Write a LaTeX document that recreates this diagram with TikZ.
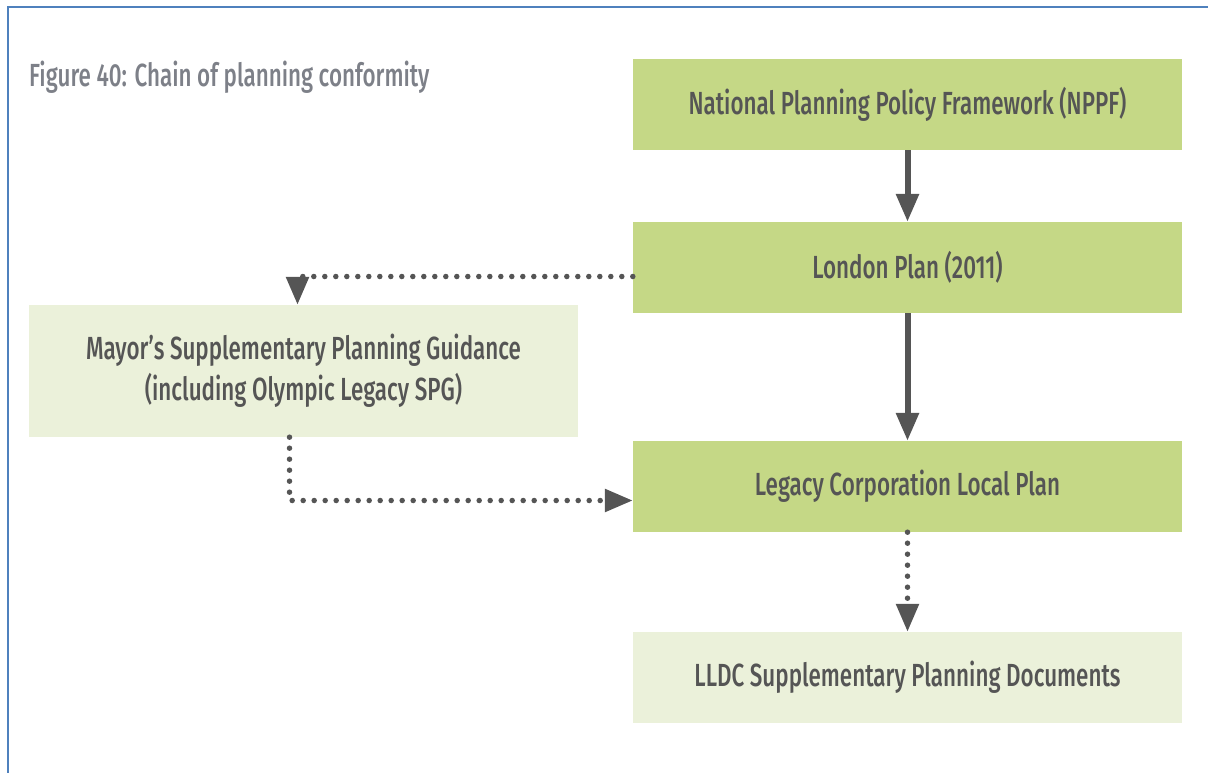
\documentclass[tikz,border=0pt]{standalone}
\usepackage{fontspec}
\setmainfont{Fira Sans}[FakeStretch=0.70,UprightFont={* Medium}]
\usetikzlibrary{arrows.meta,calc}
\definecolor{frameblue}{HTML}{4F81BD}
\definecolor{darkgreen}{HTML}{C5D886}
\definecolor{palegreen}{HTML}{EBF1DA}
\definecolor{inkgrey}{HTML}{555555}
\definecolor{titlegrey}{HTML}{7D8088}
\tikzset{
  planbox/.style={minimum width=549pt,minimum height=91pt,inner sep=0pt,
    text=inkgrey,font=\fontsize{32}{41}\selectfont,align=center},
  strongbox/.style={planbox,fill=darkgreen},
  weakbox/.style={planbox,fill=palegreen},
  solidlink/.style={draw=inkgrey,line width=6pt,
    -{Triangle[width=22pt,length=28pt]}},
  dottedlink/.style={draw=inkgrey,line width=5.5pt,line cap=round,
    dash pattern=on 0pt off 11pt,
    -{Triangle[width=22pt,length=28pt]}}
}
\begin{document}
\begin{tikzpicture}[x=1pt,y=-1pt]
  \useasboundingbox (0,0) rectangle (1208,773);
  % frame lines along the top and left edges
  \draw[frameblue,line width=2pt] (8,775) -- (8,7) -- (1210,7);
  % caption
  \node[anchor=west,text=titlegrey,font=\fontsize{32}{38}\selectfont,inner sep=0pt]
    (caption) at (29,77) {Figure 40: Chain of planning conformity};
  % boxes
  \node[strongbox] (nppf) at (907.5,104.5) {National Planning Policy Framework (NPPF)};
  \node[strongbox] (london) at (907.5,267.5) {London Plan (2011)};
  \node[weakbox,minimum height=132pt] (mayor) at (303.5,371)
    {Mayor’s Supplementary Planning Guidance\\(including Olympic Legacy SPG)};
  \node[strongbox] (legacy) at (907.5,486.5) {Legacy Corporation Local Plan};
  \node[weakbox] (lldc) at (907.5,677.5) {LLDC Supplementary Planning Documents};
  % connectors
  \draw[solidlink] (nppf.south) -- (london.north);
  \draw[solidlink] (london.south) -- (legacy.north);
  \draw[dottedlink] ([yshift=-9pt]london.west) -| ([xshift=-6pt]mayor.north);
  \draw[dottedlink] ([xshift=-14pt]mayor.south) |- ([yshift=-14pt]legacy.west);
  \draw[dottedlink] (legacy.south) -- (lldc.north);
\end{tikzpicture}
\end{document}
